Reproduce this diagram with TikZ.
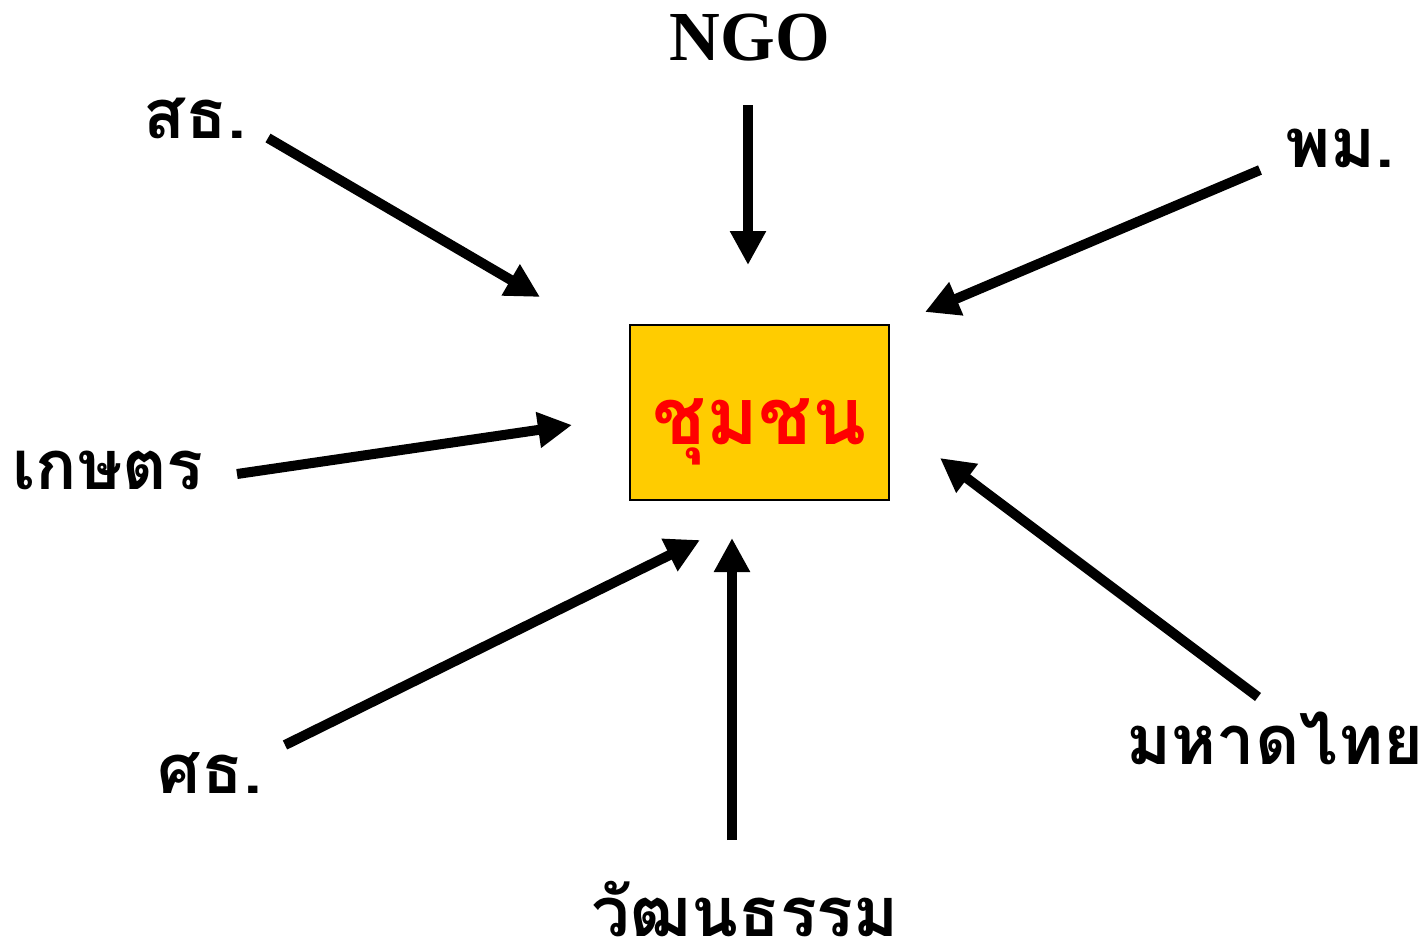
\documentclass[tikz,border=0pt]{standalone}
\usepackage{fontspec}
\setmainfont{Liberation Serif}
\newfontfamily\thaifont[Script=Thai]{Loma}
\usetikzlibrary{arrows.meta}
\definecolor{boxyellow}{RGB}{255,204,0}

\begin{document}
\begin{tikzpicture}[x=0.02cm, y=-0.02cm]
    \tikzset{unit/.style = {font=\thaifont\bfseries\fontsize{39}{44}\selectfont, inner sep=0pt}}
    \tikzset{centre/.style = {draw=black, thick, fill=boxyellow, minimum width=259*0.02cm, minimum height=175*0.02cm,
        text=red, font=\thaifont\bfseries\fontsize{45}{50}\selectfont}}
    \tikzset{edge/.style = {draw=black, line width=10*0.02cm, -{Triangle[length=34*0.02cm, width=34*0.02cm]}}}
    \useasboundingbox (0,0) rectangle (1427,947);

    % vertices
    \node[centre] (c) at (759.5,412.5) {\smash{\raisebox{-0.64cm}{ชุมชน}}};
    \node[inner sep=0pt, font=\bfseries\fontsize{40}{44}\selectfont] (ngo) at (750,38) {NGO};
    \node[unit] (sth) at (195,118) {สธ.};
    \node[unit] (pm) at (1340,148) {พม.};
    \node[unit] (kaset) at (108,470) {เกษตร};
    \node[unit] (sueksa) at (210,773) {ศธ.};
    \node[unit, anchor=base, text depth=0pt] (wattha) at (745,936) {วัฒนธรรม};
    \node[unit] (mahad) at (1275,738) {มหาดไทย};

    % arrow ends
    \coordinate (a1) at (268,138);  \coordinate (b1) at (540,297);
    \coordinate (a2) at (748,105);  \coordinate (b2) at (748,265);
    \coordinate (a3) at (1260,170); \coordinate (b3) at (925,312);
    \coordinate (a4) at (237,474);  \coordinate (b4) at (572,425);
    \coordinate (a5) at (285,745);  \coordinate (b5) at (700,540);
    \coordinate (a6) at (732,840);  \coordinate (b6) at (732,538);
    \coordinate (a7) at (1258,697); \coordinate (b7) at (940,458);

    % edges
    \draw[edge] (a1) -- (b1);
    \draw[edge] (a2) -- (b2);
    \draw[edge] (a3) -- (b3);
    \draw[edge] (a4) -- (b4);
    \draw[edge] (a5) -- (b5);
    \draw[edge] (a6) -- (b6);
    \draw[edge] (a7) -- (b7);
\end{tikzpicture}
\end{document}
